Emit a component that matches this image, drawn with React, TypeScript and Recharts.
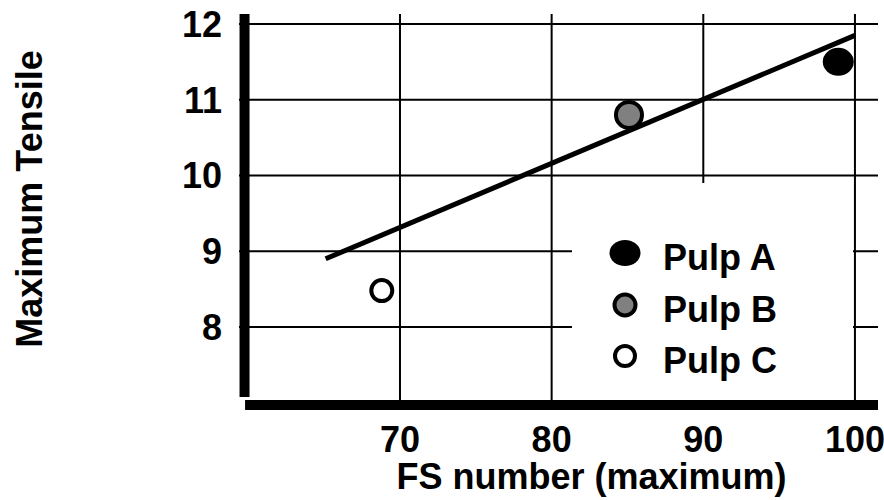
import React from 'react';
import {
  ScatterChart,
  Scatter,
  XAxis,
  YAxis,
  CartesianGrid,
  Legend,
  Label,
  ReferenceLine,
} from 'recharts';

const FONT = '"Liberation Sans", Arial, Helvetica, sans-serif';

// axis ticks and ranges
const xTicks = [70, 80, 90, 100];
const yTicks = [8, 9, 10, 11, 12];
const xDomain = [59.385, 101.52];
const yDomain = [6.904, 12.132];

// where the heavy frame lines sit (data units)
const frameX = 59.75;
const frameY = 6.97;
const frameYTop = 7.076;

// measured points (FS number vs maximum tensile)
const pulpA = [{ x: 98.9, y: 11.5 }];
const pulpB = [{ x: 85.1, y: 10.8 }];
const pulpC = [{ x: 68.8, y: 8.48 }];

// fitted line end points
const trend = [
  { x: 65.1, y: 8.9 },
  { x: 100, y: 11.85 },
];

const markers: Record<string, any> = {
  'Pulp A': { fill: '#000', stroke: '#000', strokeWidth: 0, rx: 15.5, ry: 14, lrx: 15.5, lry: 13 },
  'Pulp B': { fill: '#808080', stroke: '#000', strokeWidth: 4, rx: 13, ry: 13, lrx: 10.5, lry: 10.5 },
  'Pulp C': { fill: '#fff', stroke: '#000', strokeWidth: 4, rx: 10.5, ry: 10.5, lrx: 10, lry: 10 },
};

const dot = (name: string) => (props: any) => {
  const m = markers[name];
  return (
    <ellipse
      cx={props.cx}
      cy={props.cy}
      rx={m.rx}
      ry={m.ry}
      fill={m.fill}
      stroke={m.stroke}
      strokeWidth={m.strokeWidth}
    />
  );
};

// grid only at the tick values, through the axis scales
const scaleOf = (axis: any) => {
  const s = axis && axis.scale;
  if (!s) return null;
  if (typeof s === 'function') return s;
  if (typeof s.map === 'function') return (v: number) => s.map(v);
  return null;
};
const gridX = ({ xAxis }: any) => {
  const s = scaleOf(xAxis);
  return s ? xTicks.map((t) => s(t)) : [];
};
const gridY = ({ yAxis }: any) => {
  const s = scaleOf(yAxis);
  return s ? yTicks.map((t) => s(t)) : [];
};

const renderLegend = ({ payload }: any) => (
  <div style={{ paddingTop: 49, paddingLeft: 33 }}>
    {(payload || [])
      .filter((p: any) => markers[p.value])
      .map((p: any) => {
        const m = markers[p.value];
        return (
          <div key={p.value} style={{ display: 'flex', alignItems: 'center', height: 51.5 }}>
            <svg width={40} height={51.5} style={{ display: 'block' }}>
              <ellipse
                cx={20}
                cy={21}
                rx={m.lrx}
                ry={m.lry}
                fill={m.fill}
                stroke={m.stroke}
                strokeWidth={m.strokeWidth}
              />
            </svg>
            <span
              style={{
                marginLeft: 18,
                fontSize: 36,
                fontWeight: 'bold',
                lineHeight: '51.5px',
                fontFamily: FONT,
                color: '#000',
                whiteSpace: 'nowrap',
              }}
            >
              {p.value}
            </span>
          </div>
        );
      })}
  </div>
);

const tickStyle = { fontSize: 36, fontWeight: 'bold', fill: '#000', fontFamily: FONT };

export default function App() {
  return (
    <div style={{ position: 'absolute', left: 0, top: 0, background: '#fff', fontFamily: FONT }}>
      <ScatterChart width={884} height={500} margin={{ top: 14, right: 6, bottom: 0, left: 0 }}>
        <CartesianGrid
          stroke="#000"
          strokeWidth={2}
          verticalCoordinatesGenerator={gridX}
          horizontalCoordinatesGenerator={gridY}
        />
        <XAxis
          type="number"
          dataKey="x"
          domain={xDomain}
          ticks={xTicks}
          height={90}
          tickLine={false}
          tickSize={6}
          tickMargin={10}
          axisLine={false}
          tick={tickStyle}
          interval={0}
        >
          <Label
            content={({ viewBox }: any) => {
              const cx = viewBox.x + viewBox.width / 2 + 33;
              const cy = viewBox.y + 79;
              return (
                <text x={cx} y={cy} textAnchor="middle" fontSize={36} fontWeight="bold" fontFamily={FONT} fill="#000">
                  FS number (maximum)
                </text>
              );
            }}
          />
        </XAxis>
        <YAxis
          type="number"
          dataKey="y"
          domain={yDomain}
          ticks={yTicks}
          width={239}
          tickLine={false}
          tickSize={6}
          tickMargin={11}
          axisLine={false}
          tick={tickStyle}
          interval={0}
        >
          <Label
            content={({ viewBox }: any) => {
              const cx = viewBox.x + 42;
              const cy = viewBox.y + viewBox.height / 2 - 13;
              return (
                <text
                  x={cx}
                  y={cy}
                  transform={`rotate(-90 ${cx} ${cy})`}
                  textAnchor="middle"
                  fontSize={36}
                  fontWeight="bold"
                  fontFamily={FONT}
                  fill="#000"
                >
                  Maximum Tensile
                </text>
              );
            }}
          />
        </YAxis>
        {/* heavy frame lines */}
        <ReferenceLine
          segment={[
            { x: frameX, y: frameYTop },
            { x: frameX, y: yDomain[1] },
          ]}
          stroke="#000"
          strokeWidth={10}
          ifOverflow="visible"
        />
        <ReferenceLine
          segment={[
            { x: xDomain[0] + 0.4, y: frameY },
            { x: xDomain[1], y: frameY },
          ]}
          stroke="#000"
          strokeWidth={10}
          ifOverflow="visible"
        />
        <Legend
          layout="vertical"
          align="center"
          verticalAlign="middle"
          content={renderLegend}
          wrapperStyle={{ left: 572, top: 183, width: 281, height: 217, background: '#fff' }}
        />
        <Scatter
          name="trend"
          data={trend}
          line={{ stroke: '#000', strokeWidth: 5 }}
          shape={() => <g />}
          legendType="none"
          isAnimationActive={false}
        />
        <Scatter name="Pulp A" data={pulpA} shape={dot('Pulp A')} isAnimationActive={false} />
        <Scatter name="Pulp B" data={pulpB} shape={dot('Pulp B')} isAnimationActive={false} />
        <Scatter name="Pulp C" data={pulpC} shape={dot('Pulp C')} isAnimationActive={false} />
      </ScatterChart>
    </div>
  );
}
